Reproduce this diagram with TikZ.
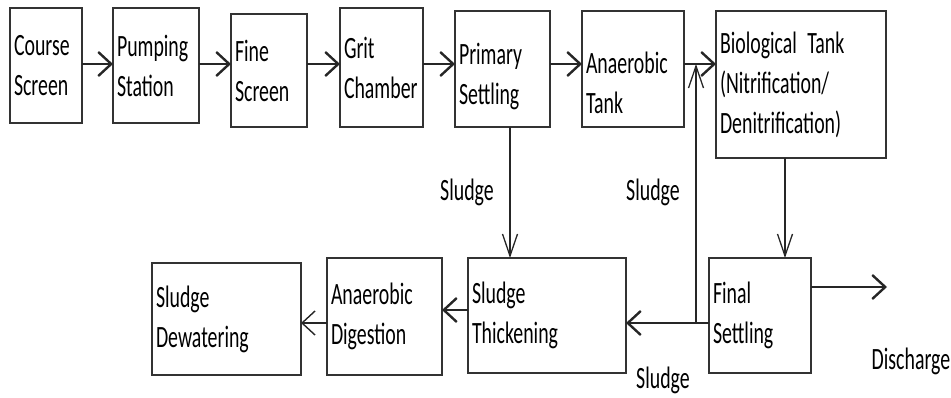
\documentclass[tikz,border=0pt]{standalone}
\usepackage{fontspec}
\setmainfont{Carlito}[FakeStretch=0.64]
\usetikzlibrary{arrows.meta}

\newcommand{\diagfont}{\fontsize{31}{40}\selectfont\fontdimen2\font=4.5pt\fontdimen3\font=0pt\fontdimen4\font=0pt}

\tikzset{
    stage/.style 2 args={draw=black!80, line width=1.2pt, outer sep=0pt, anchor=north west,
        align=left, inner xsep=4pt, text width=#1, minimum height=#2,
        font=\diagfont},
    tag/.style={font=\diagfont},
    flow/.style={draw=black!85, line width=2.4pt, -{Straight Barb[length=13pt, width=24pt]}},
    thinflow/.style={draw=black!85, line width=1.4pt, -{Straight Barb[length=13pt, width=24pt]}},
    downflow/.style={draw=black!85, line width=1.3pt, -{Straight Barb[length=22pt, width=15pt]}}
}

\begin{document}
\begin{tikzpicture}[x=1pt, y=-1pt]
        \useasboundingbox (0, 0) rectangle (951, 397);

        \node[stage={64pt}{115pt}] (course) at (10, 8) {Course\\Screen};
        \node[stage={78pt}{115pt}] (pumping) at (113, 8) {Pumping\\Station};
        \node[stage={68pt}{113pt}] (fine) at (231, 14) {Fine\\Screen};
        \node[stage={75pt}{119pt}] (grit) at (340, 8) {Grit\\Chamber};
        \node[stage={87pt}{116pt}, text depth=30pt] (primary) at (455, 11) {Primary\\Settling};
        \node[stage={94pt}{116pt}, text depth=12pt] (anaerobic) at (582, 11) {Anaerobic\\Tank};
        \node[stage={162pt}{147pt}] (biotank) at (716, 11) {Biological Tank\\(Nitrification/\\Denitrification)};

        \node[stage={150pt}{115pt}] (thickening) at (468, 258) {Sludge\\Thickening};
        \node[stage={94pt}{115pt}] (final) at (709, 258) {Final\\Settling};
        \node[stage={107pt}{117pt}] (digestion) at (327, 258) {Anaerobic\\Digestion};
        \node[stage={141pt}{112pt}] (dewatering) at (152, 263) {Sludge\\Dewatering};

        \node[tag] (sludgeprim) at (467, 192) {Sludge};
        \node[tag] (sludgeret) at (653, 192) {Sludge};
        \node[tag] (sludgefin) at (663, 380) {Sludge};
        \node[tag] (discharge) at (911, 361) {Discharge};

        \coordinate (row) at (0, 64);
        \coordinate (low) at (0, 323);
        \coordinate (mid) at (0, 310);
        \coordinate (junction) at (696, 323);
        \coordinate (outlet) at (887, 287);

        \draw[flow] (course.east |- row) -- (pumping.west |- row);
        \draw[flow] (pumping.east |- row) -- (fine.west |- row);
        \draw[flow] (fine.east |- row) -- (grit.west |- row);
        \draw[flow] (grit.east |- row) -- (primary.west |- row);
        \draw[flow] (primary.east |- row) -- (anaerobic.west |- row);
        \draw[flow] (anaerobic.east |- row) -- (biotank.west |- row);

        \draw[downflow] ([xshift=7.5pt]primary.south) -- ([xshift=7.5pt]primary.south |- thickening.north);
        \draw[downflow] ([xshift=-16pt]biotank.south) -- ([xshift=-16pt]biotank.south |- final.north);

        \draw[flow] (final.west |- low) -- (thickening.east |- low);
        \draw[downflow] (junction) -- (junction |- row);
        \draw[flow] (final.east |- outlet) -- (outlet);

        \draw[flow] (thickening.west |- mid) -- (digestion.east |- mid);
        \draw[thinflow] (digestion.west |- low) -- (dewatering.east |- low);
    \end{tikzpicture}
\end{document}
